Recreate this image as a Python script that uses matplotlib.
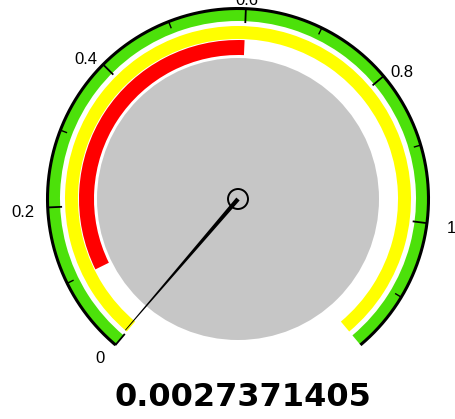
import matplotlib.pyplot as plt
from matplotlib.patches import Wedge, Circle, Polygon
import numpy as np

# gauge data
value = 0.0027371405
scale_min = 0.0
scale_max = 1.18
band_colors = ['#4ce10a', '#ffff00', '#ff0000']
band_from = [0.0, 0.0, 0.1]
band_to = [1.18, 1.18, 0.6]
major_ticks = [0, 0.2, 0.4, 0.6, 0.8, 1.0]
major_labels = ['0', '0.2', '0.4', '0.6', '0.8', '1']
minor_ticks = [0.1, 0.3, 0.5, 0.7, 0.9, 1.1]

# geometry in pixels
W, H = 455, 419
cx, cy = 238, H - 199
band_r = [(178, 190), (160, 173), (144, 159)]
start_ang, sweep = 230.0, 280.0


def ang(v):
    return start_ang - (v - scale_min) / (scale_max - scale_min) * sweep


def pt(r, a):
    t = np.radians(a)
    return cx + r * np.cos(t), cy + r * np.sin(t)


fig = plt.figure(figsize=(W / 100, H / 100), dpi=100)
ax = fig.add_axes([0, 0, 1, 1])
ax.set_xlim(0, W)
ax.set_ylim(0, H)
ax.set_aspect('equal')
ax.axis('off')

# colour bands
for col, f, t, (ri, ro) in zip(band_colors, band_from, band_to, band_r):
    ax.add_patch(Wedge((cx, cy), ro, ang(t), ang(f), width=ro - ri,
                       facecolor=col, edgecolor='none'))

# gray face
ax.add_patch(Circle((cx, cy), 141, facecolor='#c6c6c6', edgecolor='none'))

# outer black arc
th = np.linspace(ang(scale_max), ang(scale_min), 300)
xs, ys = pt(190.5, th)
ax.plot(xs, ys, color='black', lw=2.2, solid_capstyle='butt')

# ticks
for v in major_ticks:
    x0, y0 = pt(190, ang(v))
    x1, y1 = pt(177, ang(v))
    ax.plot([x0, x1], [y0, y1], color='black', lw=1.3)
for v in minor_ticks:
    x0, y0 = pt(190, ang(v))
    x1, y1 = pt(184, ang(v))
    ax.plot([x0, x1], [y0, y1], color='black', lw=1.0)

# tick labels
for v, lab in zip(major_ticks, major_labels):
    t = np.radians(ang(v))
    x = cx + 215 * np.cos(t)
    y = cy + 203 * np.sin(t) - 4
    ax.text(x, y, lab, ha='center', va='center', fontsize=12,
            family='Liberation Sans', color='black')

# needle
a = np.radians(ang(value))
d = np.array([np.cos(a), np.sin(a)])
n = np.array([-d[1], d[0]])
c = np.array([cx, cy])
tip = c + 173 * d
needle = [c + 2.2 * n, tip + 0.4 * n, tip - 0.4 * n, c - 2.2 * n]
ax.add_patch(Polygon(needle, closed=True, facecolor='black', edgecolor='none'))
ax.add_patch(Circle((cx, cy), 10, facecolor='none', edgecolor='black', lw=1.4))

# value text
ax.text(242.5, H - 397, f'{value:.10f}', ha='center', va='center',
        fontsize=23, fontweight='bold', family='DejaVu Sans', color='black')

plt.savefig('out.png', dpi=100)
